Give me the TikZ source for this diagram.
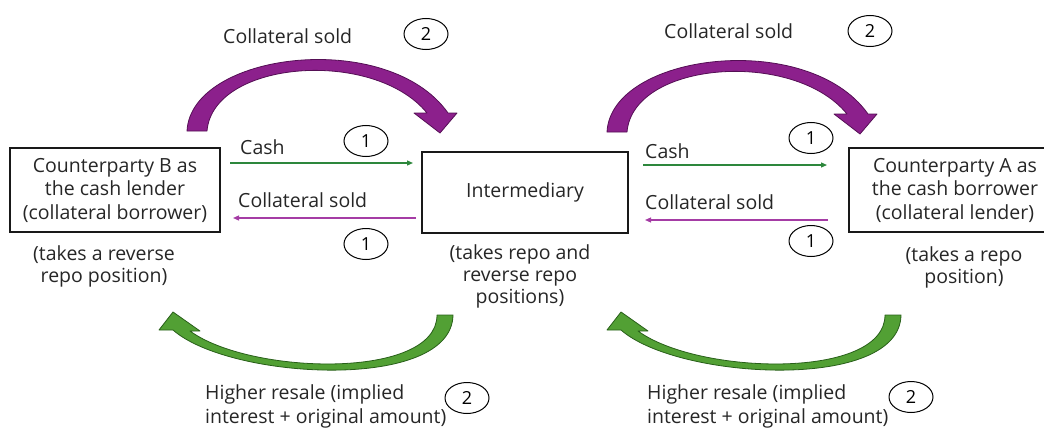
\documentclass[tikz,border=0pt]{standalone}
\usepackage{fontspec}
\setmainfont{Open Sans}
\usetikzlibrary{arrows.meta,calc,shapes.geometric}
\definecolor{cashgreen}{RGB}{45,135,60}
\definecolor{collpurple}{RGB}{165,60,165}
\definecolor{bigpurple}{RGB}{140,32,140}
\definecolor{bigpurpleedge}{RGB}{85,15,85}
\definecolor{biggreen}{RGB}{82,160,52}
\definecolor{biggreenedge}{RGB}{40,95,25}
\begin{document}
\begin{tikzpicture}[x=1pt,y=-1pt,
  txt/.style={font=\fontsize{19.5}{23.5}\selectfont, inner sep=0pt, text=black!85},
  note/.style={font=\fontsize{19.5}{22}\selectfont, inner sep=0pt, text=black!85, align=center},
  box/.style={draw=black!90, line width=1.3pt, inner sep=0pt, align=center, txt},
  num/.style={ellipse, draw=black, line width=1pt, minimum width=44pt, minimum height=31pt, inner sep=0pt, font=\fontsize{18}{20}\selectfont},
  cashline/.style={draw=cashgreen, line width=1.2pt, -{Triangle[length=6pt,width=5pt]}},
  collline/.style={draw=collpurple, line width=1.2pt, -{Triangle[length=6pt,width=5pt]}},
  purplearrow/.style={fill=bigpurple, draw=bigpurpleedge, line width=0.8pt, line join=round},
  greenarrow/.style={fill=biggreen, draw=biggreenedge, line width=0.8pt, line join=round}
]
\useasboundingbox (0,0) rectangle (1044,428);

% boxes
\node[box, minimum width=210pt, minimum height=84pt] (B) at (115,190) {Counterparty B as\\the cash lender\\(collateral borrower)};
\node[box, minimum width=206pt, minimum height=81pt] (I) at (525,192.5) {Intermediary};
\node[box, minimum width=212pt, minimum height=84pt] (A) at (955,190) {Counterparty A as\\the cash borrower\\(collateral lender)};

% notes below boxes
\node[note] (Bn) at (104,266) {(takes a reverse\\repo position)};
\node[note] (In) at (520,276) {(takes repo and\\reverse repo\\positions)};
\node[note] (An) at (964,267) {(takes a repo\\position)};

% thin arrows left
\coordinate (c1s) at (230,163); \coordinate (c1e) at (413,163);
\coordinate (d1s) at (416,218); \coordinate (d1e) at (233,218);
\draw[cashline] (c1s) -- (c1e);
\draw[collline] (d1s) -- (d1e);
\node[txt, anchor=west] (cashL) at (240,147) {Cash};
\node[txt, anchor=west] (collL) at (238,200) {Collateral sold};
\node[num] (n1a) at (366,141) {1};
\node[num] (n1b) at (366,244) {1};

% thin arrows right
\coordinate (c2s) at (643,165); \coordinate (c2e) at (827,165);
\coordinate (d2s) at (828,220); \coordinate (d2e) at (645,220);
\draw[cashline] (c2s) -- (c2e);
\draw[collline] (d2s) -- (d2e);
\node[txt, anchor=west] (cashR) at (645,151) {Cash};
\node[txt, anchor=west] (collR) at (645,202) {Collateral sold};
\node[num] (n1c) at (811,138) {1};
\node[num] (n1d) at (811,241) {1};

% top purple curved arrows
\foreach \dx/\dy in {0/0, 420/1} {
  \begin{scope}[shift={(\dx,\dy)}]
    \path[purplearrow] (187,131) .. controls (191,52) and (388,28) .. (448,113)
      -- (457,113) -- (440,133) -- (414,113) -- (427,113)
      .. controls (374,48) and (213,60) .. (207,131) -- cycle;
  \end{scope}
}
\node[txt, anchor=west] (topL) at (223,36) {Collateral sold};
\node[num] (n2a) at (426,34) {2};
\node[txt, anchor=west] (topR) at (664,31) {Collateral sold};
\node[num] (n2b) at (870,31) {2};

% bottom green curved arrows
\foreach \dx in {0, 448} {
  \begin{scope}[shift={(\dx,0)}]
    \path[greenarrow] (453,315) .. controls (452,392) and (230,380) .. (173,330)
      -- (159,330) -- (173,312) -- (200,331) -- (190,331)
      .. controls (250,375) and (437,380) .. (437,315) -- cycle;
  \end{scope}
}
\node[txt, anchor=west, align=left] (botL) at (205,406.5) {Higher resale (implied\\interest + original amount)};
\node[num] (n2c) at (467,398) {2};
\node[txt, anchor=west, align=left] (botR) at (647,406.5) {Higher resale (implied\\interest + original amount)};
\node[num] (n2d) at (911,397) {2};
\end{tikzpicture}
\end{document}
